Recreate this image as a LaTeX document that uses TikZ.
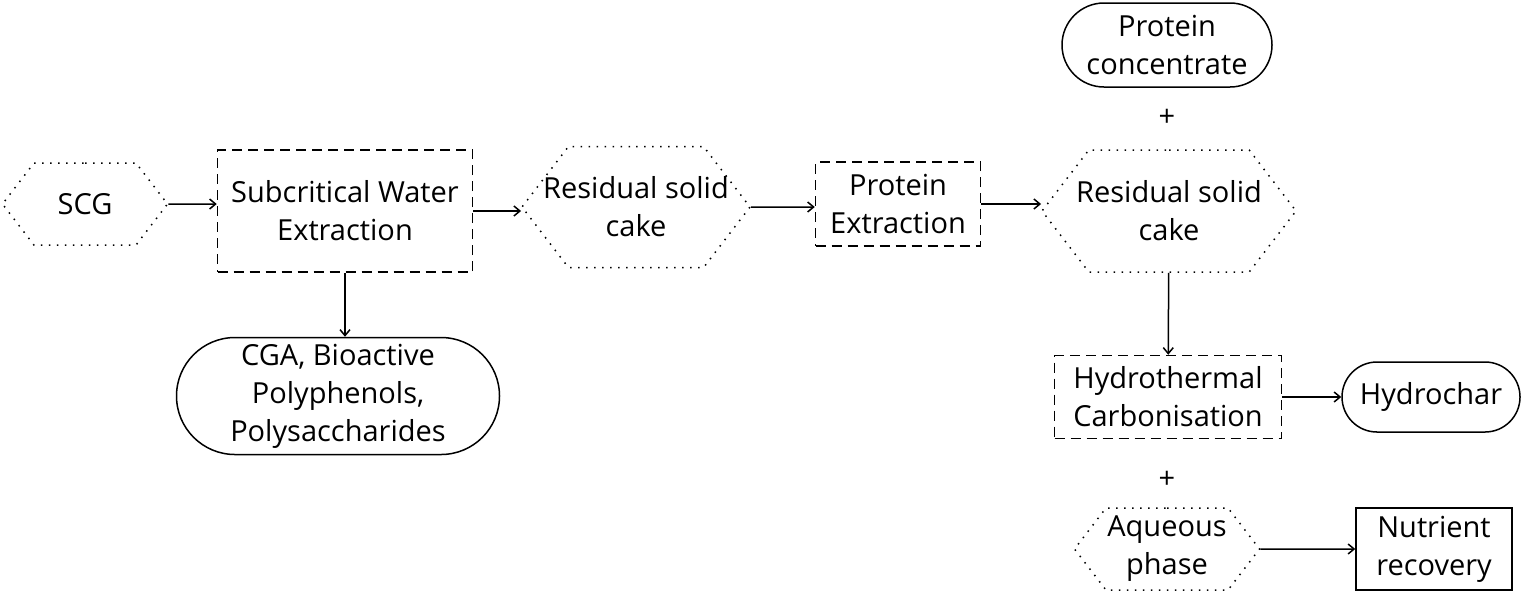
\documentclass[tikz,border=0pt]{standalone}
\usepackage{fontspec}
\setmainfont{Open Sans}
\usetikzlibrary{shapes.symbols,shapes.misc,positioning,arrows.meta}

\tikzset{
    hexnode/.style={shape=signal, signal to=east and west, signal pointer angle=105, draw, line width=0.75pt, dash pattern=on 0.75pt off 3.25pt, inner xsep=-30pt, inner ysep=0pt, align=center},
    procnode/.style={draw, line width=0.75pt, dash pattern=on 5pt off 3pt, inner sep=0pt, align=center},
    prodnode/.style={rounded rectangle, draw, line width=0.75pt, inner sep=0pt, align=center},
    flow/.style={line width=0.75pt, -{Straight Barb[length=3pt,width=5pt]}},
}

\begin{document}
\begin{tikzpicture}[x=0.5pt, y=-0.5pt, font=\fontsize{14.5}{19}\selectfont]
    \useasboundingbox (0,0) rectangle (1524,596);

    \node (scg)    [hexnode, minimum width=82.5pt, minimum height=41pt] at (85,204) {SCG};
    \node (swe)    [procnode, minimum width=127.5pt, minimum height=61pt] at (345,211) {Subcritical Water \\ Extraction};
    \node (cakea)  [hexnode, minimum width=114pt, minimum height=60.5pt] at (636,207) {Residual solid \\ cake};
    \node (protex) [procnode, minimum width=82.5pt, minimum height=42pt] at (898,204) {Protein \\ Extraction};
    \node (cakeb)  [hexnode, minimum width=127pt, minimum height=61pt] at (1169,211) {Residual solid \\ cake};
    \node (protc)  [prodnode, minimum width=105pt, minimum height=42pt] at (1167,45) {Protein \\ concentrate};
    \node (plusa)  at (1167,118) {+};
    \node (cga)    [prodnode, minimum width=161.5pt, minimum height=58.5pt] at (338,396) {CGA, Bioactive \\ Polyphenols, \\ Polysaccharides};
    \node (htc)    [procnode, minimum width=113.5pt, minimum height=41.5pt] at (1168,397) {Hydrothermal \\ Carbonisation};
    \node (hchar)  [prodnode, minimum width=89pt, minimum height=35pt] at (1431,397) {Hydrochar};
    \node (plusb)  at (1167,480) {+};
    \node (aqua)   [hexnode, minimum width=92.5pt, minimum height=41pt] at (1167,549) {Aqueous \\ phase};
    \node (nutr)   [draw, line width=0.75pt, inner sep=0pt, align=center, minimum width=78pt, minimum height=41pt] at (1434,549) {Nutrient \\ recovery};

    \draw[flow] (scg) -- (scg -| swe.west);
    \draw[flow] (swe) -- (swe -| cakea.west);
    \draw[flow] (cakea) -- (cakea -| protex.west);
    \draw[flow] (protex) -- (protex -| cakeb.west);
    \draw[flow] (swe.south) -- (swe.south |- cga.north);
    \draw[flow] (cakeb) -- (htc);
    \draw[flow] (htc) -- (hchar);
    \draw[flow] (aqua) -- (nutr);
\end{tikzpicture}
\end{document}
